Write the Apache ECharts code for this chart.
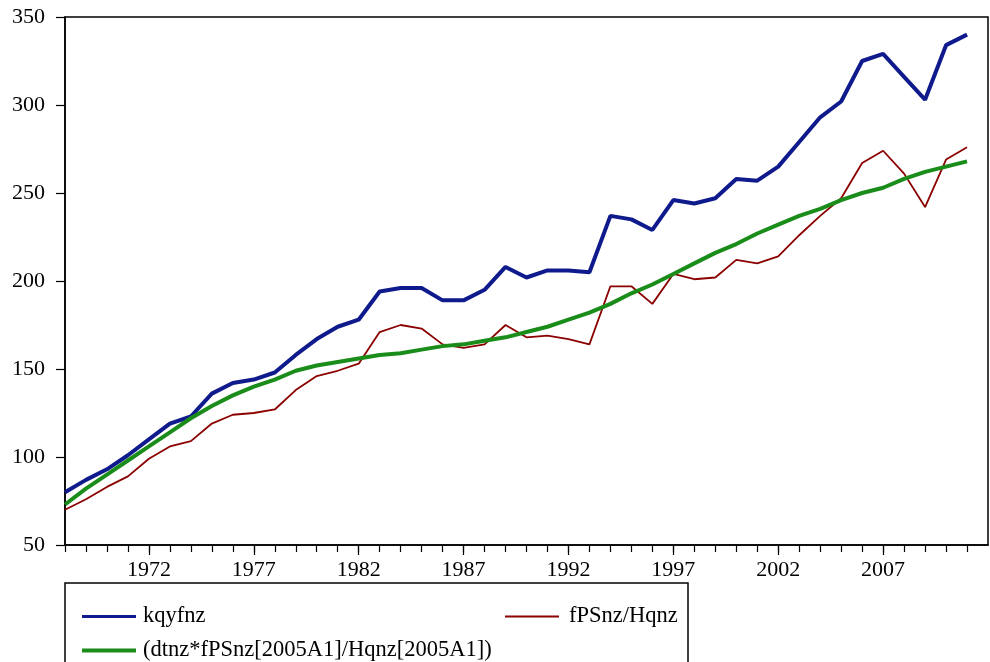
<!DOCTYPE html>
<html>
<head>
<meta charset="utf-8">
<script src="https://cdn.jsdelivr.net/npm/echarts@6/dist/echarts.min.js"></script>
<style>
html,body{margin:0;padding:0;background:#fff;}
#chart{width:990px;height:662px;}
</style>
</head>
<body>
<div id="chart"></div>
<script>
const years = [];
for (let y = 1968; y <= 2011; y++) years.push(y);

const kqyfnz = [80,87,93,101,110,119,123,136,142,144,148,158,167,174,178,194,196,196,189,189,195,208,202,206,206,205,237,235,229,246,244,247,258,257,265,279,293,302,325,329,316,303,334,340];
const fPSnzHqnz = [70,76,83,89,99,106,109,119,124,125,127,138,146,149,153,171,175,173,164,162,164,175,168,169,167,164,197,197,187,204,201,202,212,210,214,226,237,247,267,274,261,242,269,276];
const dtnzScaled = [73,82,90,98,106,114,122,129,135,140,144,149,152,154,156,158,159,161,163,164,166,168,171,174,178,182,187,193,198,204,210,216,221,227,232,237,241,246,250,253,258,262,265,268];

const seriesNames = ['kqyfnz','fPSnz/Hqnz','(dtnz*fPSnz[2005A1]/Hqnz[2005A1])'];
const xLabelYears = [1972,1977,1982,1987,1992,1997,2002,2007];
const yTicks = [50,100,150,200,250,300,350];

const pair = arr => arr.map((v,i)=>[years[i], v]);
const allTicks = [];
for (let y = 1968; y <= 2011; y++) allTicks.push(y);

const font = 'Liberation Serif';
const chart = echarts.init(document.getElementById('chart'));
chart.setOption({
  animation:false,
  backgroundColor:'#fff',
  textStyle:{fontFamily:font},
  grid:{left:65,right:2,top:17,bottom:117,show:true,borderColor:'#000',borderWidth:1.5,backgroundColor:'transparent'},
  xAxis:[{
    type:'value',min:1968,max:2012,
    axisLine:{show:true,onZero:false,lineStyle:{color:'#000',width:1.5}},
    axisTick:{show:true,customValues:allTicks,length:7,lineStyle:{color:'#000',width:1.2}},
    axisLabel:{show:true,customValues:xLabelYears,formatter:v=>String(v),fontFamily:font,fontSize:22,color:'#000',margin:14},
    splitLine:{show:false}
  },{
    type:'value',min:1968,max:2012,position:'bottom',
    axisLine:{show:false,onZero:false},
    axisTick:{show:true,customValues:xLabelYears,length:10,lineStyle:{color:'#000',width:1.2}},
    axisLabel:{show:false},
    splitLine:{show:false}
  }],
  yAxis:{
    type:'value',min:yTicks[0],max:yTicks[yTicks.length-1],interval:50,
    axisLine:{show:true,lineStyle:{color:'#000',width:1.5}},
    axisTick:{show:true,length:9,lineStyle:{color:'#000',width:1.2}},
    axisLabel:{fontFamily:font,fontSize:22,color:'#000',margin:20,formatter:v=>String(v)},
    splitLine:{show:false}
  },
  legend:[
    {data:[seriesNames[0]],left:77,top:600,icon:'rect',itemWidth:54,itemHeight:3,textStyle:{fontFamily:font,fontSize:22.5,color:'#000',padding:[0,0,0,2]}},
    {data:[seriesNames[1]],left:500,top:600,icon:'rect',itemWidth:54,itemHeight:2,textStyle:{fontFamily:font,fontSize:22.5,color:'#000',padding:[0,0,0,5]}},
    {data:[seriesNames[2]],left:77,top:634,icon:'rect',itemWidth:54,itemHeight:4,textStyle:{fontFamily:font,fontSize:22.5,color:'#000',padding:[0,0,0,2]}}
  ],
  graphic:[{type:'rect',shape:{x:65,y:583,width:623,height:100},style:{fill:'transparent',stroke:'#000',lineWidth:1.5},silent:true,z:-1}],
  series:[
    {name:seriesNames[1],type:'line',data:pair(fPSnzHqnz),showSymbol:false,symbol:'none',lineStyle:{color:'#8b0000',width:1.8},itemStyle:{color:'#8b0000'},z:2},
    {name:seriesNames[0],type:'line',data:pair(kqyfnz),showSymbol:false,symbol:'none',lineStyle:{color:'#0f1a8c',width:4},itemStyle:{color:'#0f1a8c'},z:3},
    {name:seriesNames[2],type:'line',data:pair(dtnzScaled),showSymbol:false,symbol:'none',lineStyle:{color:'#1a8c1a',width:4},itemStyle:{color:'#1a8c1a'},z:4}
  ]
});
</script>
</body>
</html>
